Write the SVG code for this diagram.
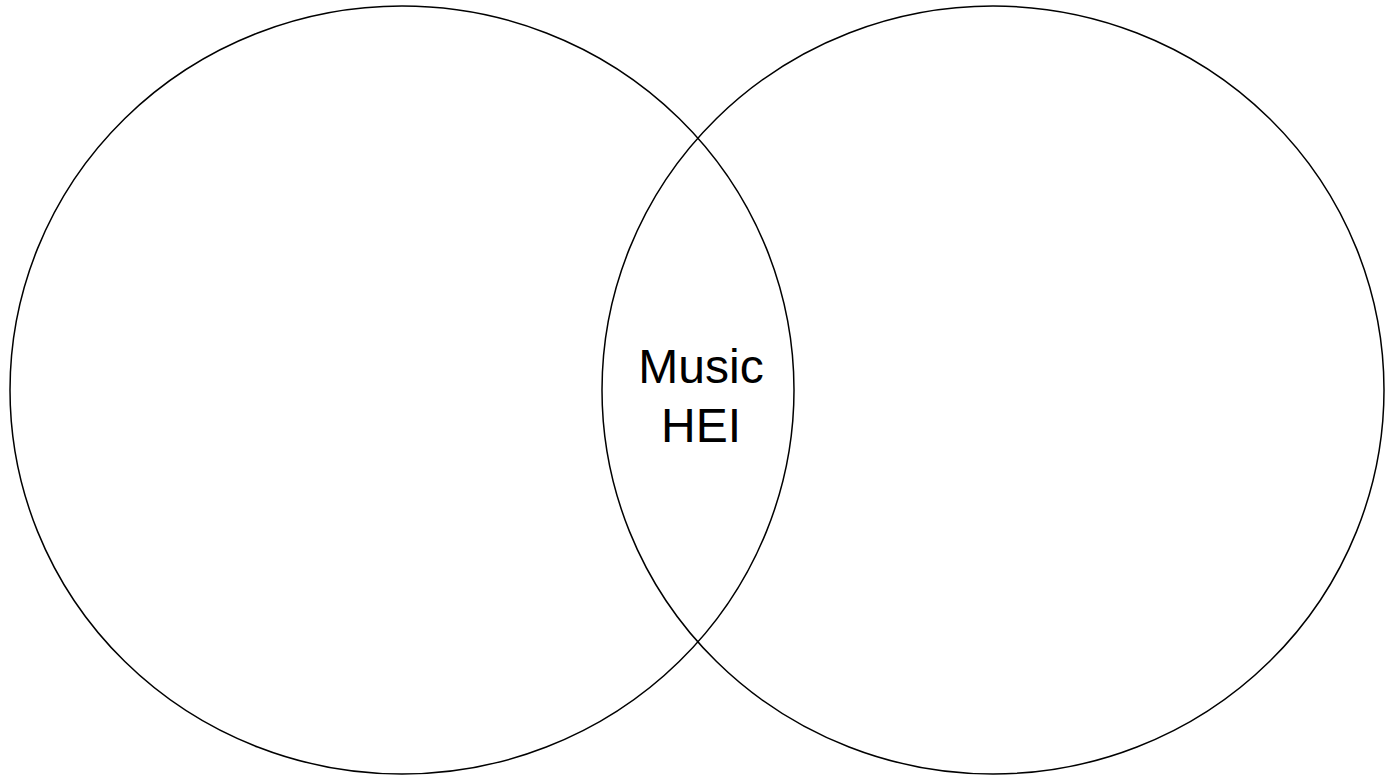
<svg xmlns="http://www.w3.org/2000/svg" width="1385" height="779" viewBox="0 0 1385 779">
<style>
.c{fill:none;stroke:#000;stroke-width:1.5}
.t{font-family:"Liberation Sans",Arial,sans-serif;font-size:48px;fill:#000;text-anchor:middle}
</style>
<rect width="1385" height="779" fill="#fff"/>
<g id="left-set"><ellipse class="c" cx="402" cy="390" rx="392" ry="384"/></g>
<g id="right-set"><ellipse class="c" cx="993" cy="390" rx="391" ry="384"/></g>
<g id="overlap"><text class="t" x="701" y="383">Music</text><text class="t" x="701" y="442">HEI</text></g>
<g id="connectors"></g>
</svg>
